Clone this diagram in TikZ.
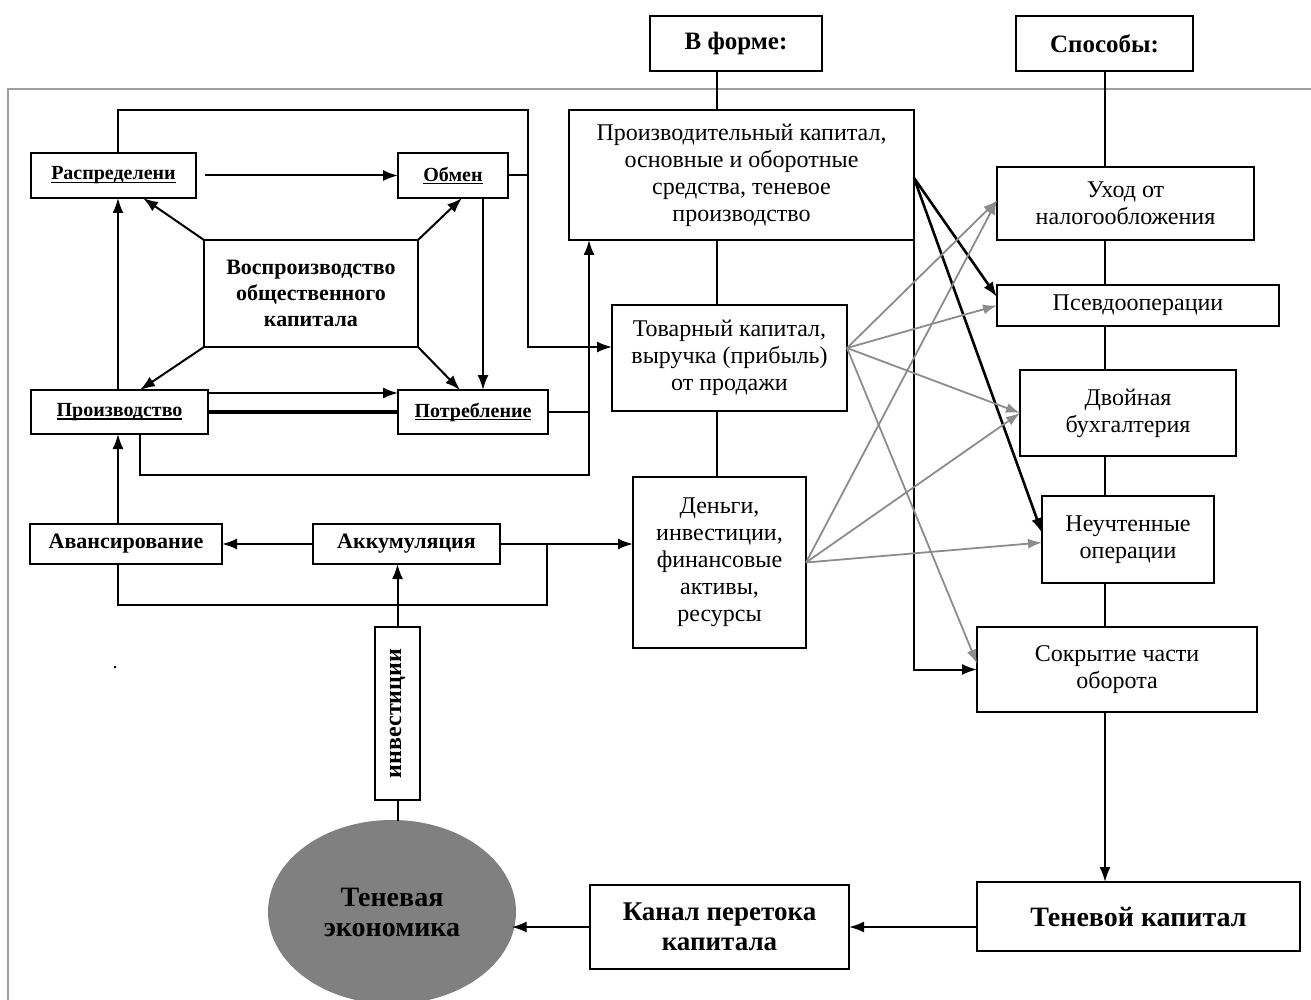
\documentclass[tikz,border=0pt]{standalone}
\usepackage{fontspec}
\setmainfont{Liberation Serif}
\usepackage{graphicx}
\usetikzlibrary{arrows.meta,shapes.geometric}
\definecolor{gline}{gray}{0.55}
\definecolor{ellgray}{gray}{0.5}
\definecolor{framegray}{gray}{0.62}
\newcommand\pbox[7]{\node[#2, minimum width={(#5-#3)*0.5pt}, minimum height={(#6-#4)*0.5pt}] (#1) at ({(#3+#5)/2},{(#4+#6)/2}) {#7};}
\newcommand\ulb[1]{{\setbox0\hbox{#1}\rlap{\rule[-1.6pt]{\wd0}{0.6pt}}\box0}}
\tikzset{
  box/.style={draw, line width=1pt, fill=white, inner sep=0pt, outer sep=0pt, align=center, font=\fontsize{12}{13.5}\selectfont},
  bbox/.style={box, font=\bfseries\fontsize{11}{13}\selectfont},
  ubox/.style={box, font=\bfseries\fontsize{10}{12}\selectfont},
  hbox/.style={box, font=\bfseries\fontsize{12.5}{15}\selectfont},
  lbox/.style={box, font=\bfseries\fontsize{13.5}{15}\selectfont},
  ln/.style={line width=1pt},
  arr/.style={line width=1pt, -{Latex[length=7.5pt,width=5.5pt]}},
  karr/.style={line width=1.3pt, -{Latex[length=7.5pt,width=5.5pt]}},
  garr/.style={line width=0.9pt, draw=gline, -{Latex[length=7pt,width=5pt]}, color=gline}
}
\begin{document}
\begin{tikzpicture}[x=0.5pt,y=-0.5pt]
\useasboundingbox (0,0) rectangle (1311,1000);
% frame
\draw[framegray, line width=1.1pt] (8,1000) -- (8,89) -- (1311,89);
% column coordinates
\coordinate (cF) at (717,0);
\coordinate (cS) at (1105,0);
% left block
\pbox{rasp}{ubox}{31}{153}{196}{198}{\ulb{Распределени}}
\pbox{obmen}{ubox}{398}{153}{508}{198}{\ulb{Обмен}}
\pbox{vosp}{bbox}{204}{240}{418}{347}{Воспроизводство\\общественного\\капитала}
\pbox{proiz}{ubox}{31}{390}{208}{434}{\ulb{Производство}}
\pbox{potr}{ubox}{398}{390}{548}{434}{\ulb{Потребление}}
\pbox{avans}{bbox}{30}{524}{222}{564}{Авансирование}
\pbox{akk}{bbox}{313}{524}{500}{564}{Аккумуляция}
\pbox{inv}{bbox}{375}{627}{420}{800}{\rotatebox{90}{\fontsize{12}{14}\selectfont инвестиции}}
\node[ellipse, fill=ellgray, draw=none, minimum width=124pt, minimum height=92pt, inner sep=0pt,
      align=center, font=\bfseries\fontsize{14}{15}\selectfont] (ell) at (392,912) {Теневая\\экономика};
\node[font=\fontsize{10}{12}\selectfont, inner sep=0pt] (dot) at (115,668) {.};
% middle column
\pbox{vforme}{hbox}{650}{16}{822}{71}{В форме:}
\pbox{pk}{box}{569}{110}{914}{240}{Производительный капитал,\\основные и оборотные\\средства, теневое\\производство}
\pbox{tk}{box}{612}{305}{847}{411}{Товарный капитал,\\выручка (прибыль)\\от продажи}
\pbox{dg}{box}{633}{477}{806}{648}{Деньги,\\инвестиции,\\финансовые\\активы,\\ресурсы}
\pbox{kn}{lbox}{590}{885}{849}{969}{Канал перетока\\капитала}
% right column
\pbox{spos}{hbox}{1016}{16}{1193}{71}{Способы:}
\pbox{ux}{box}{997}{167}{1254}{240}{Уход от\\налогообложения}
\pbox{ps}{box}{997}{285}{1279}{326}{Псевдооперации}
\pbox{dv}{box}{1020}{370}{1236}{456}{Двойная\\бухгалтерия}
\pbox{nu}{box}{1042}{496}{1214}{583}{Неучтенные\\операции}
\pbox{sk}{box}{977}{627}{1257}{712}{Сокрытие части\\оборота}
\pbox{tc}{box}{977}{882}{1300}{951}{\bfseries\fontsize{14}{16}\selectfont Теневой капитал}

% ---- connectors, left block
\coordinate (L1) at (118,110);
\coordinate (L2) at (528,110);
\coordinate (L3) at (528,347);
\draw[arr] (rasp.north -| L1) -- (L1) -- (L2) -- (L3) -- (tk.west |- L3);
\draw[ln] (obmen.east) -- (obmen.east -| L2);
\draw[arr] ([xshift=4.5pt]rasp.east) -- (obmen.west);
\draw[arr] (vosp.north west) -- ([xshift=14.75pt]rasp.south);
\draw[arr] (vosp.north east) -- ([xshift=4.5pt]obmen.south);
\draw[arr] (vosp.south west) -- ([xshift=10.25pt]proiz.north);
\draw[arr] (vosp.south east) -- ([xshift=-6.5pt]potr.north);
\draw[arr] ([xshift=15pt]obmen.south) -- ([xshift=5pt]potr.north);
\draw[arr] (proiz.north -| L1) -- (rasp.south -| L1);
\draw[arr] ([yshift=-1.5pt]proiz.north east) -- ([yshift=-1.5pt]proiz.north east -| potr.west);
\draw[line width=1.8pt] (proiz.east) -- (potr.west);
\coordinate (B1) at (140,475);
\coordinate (B2) at (589,475);
\draw[arr] (proiz.south -| B1) -- (B1) -- (B2) -- (pk.south -| B2);
\draw[ln] (potr.east) -- (potr.east -| B2);
\draw[arr] (avans.north -| L1) -- (proiz.south -| L1);
\draw[arr] (akk.west) -- (avans.east);
\draw[arr] (akk.east) -- (akk.east -| dg.west);
\coordinate (A1) at (118,605);
\coordinate (A2) at (547,605);
\draw[ln] (avans.south -| A1) -- (A1) -- (A2) -- (A2 |- akk.east);
\draw[arr] (inv.north) -- (inv.north |- akk.south);
\draw[ln] (inv.south) -- ([yshift=-0.5pt]inv.south |- ell.north);

% ---- middle column
\draw[ln] (vforme.south -| cF) -- (pk.north -| cF);
\draw[ln] (pk.south -| cF) -- (tk.north -| cF);
\draw[ln] (tk.south -| cF) -- (dg.north -| cF);

% ---- right column
\draw[ln] (spos.south -| cS) -- (ux.north -| cS);
\draw[ln] (ux.south -| cS) -- (ps.north -| cS);
\draw[ln] (ps.south -| cS) -- (dv.north -| cS);
\draw[ln] (dv.south -| cS) -- (nu.north -| cS);
\draw[ln] (nu.south -| cS) -- (sk.north -| cS);
\draw[arr] (sk.south -| cS) -- (tc.north -| cS);
\draw[arr] (kn.east -| tc.west) -- (kn.east);
\draw[arr] (kn.west) -- (kn.west -| ell.-12);

% ---- fan
\coordinate (P) at ([yshift=-1.5pt]pk.east);
\draw[karr] (P) -- ([yshift=4.25pt]ps.west);
\draw[karr] (P) -- ([yshift=3.25pt]nu.west);
\draw[arr] (pk.south east) |- (sk.west);
\coordinate (T) at ([yshift=5pt]tk.east);
\draw[garr] (T) -- ([yshift=1.5pt]ux.west);
\draw[garr] (T) -- (ps.west);
\draw[garr] (T) -- (dv.west);
\draw[garr] (T) -- ([yshift=3pt]sk.west);
\draw[garr] (dg.east) -- ([yshift=1.5pt]ux.west);
\draw[garr] (dg.east) -- (dv.west);
\draw[garr] (dg.east) -- ([yshift=-1.5pt]nu.west);
\end{tikzpicture}
\end{document}
